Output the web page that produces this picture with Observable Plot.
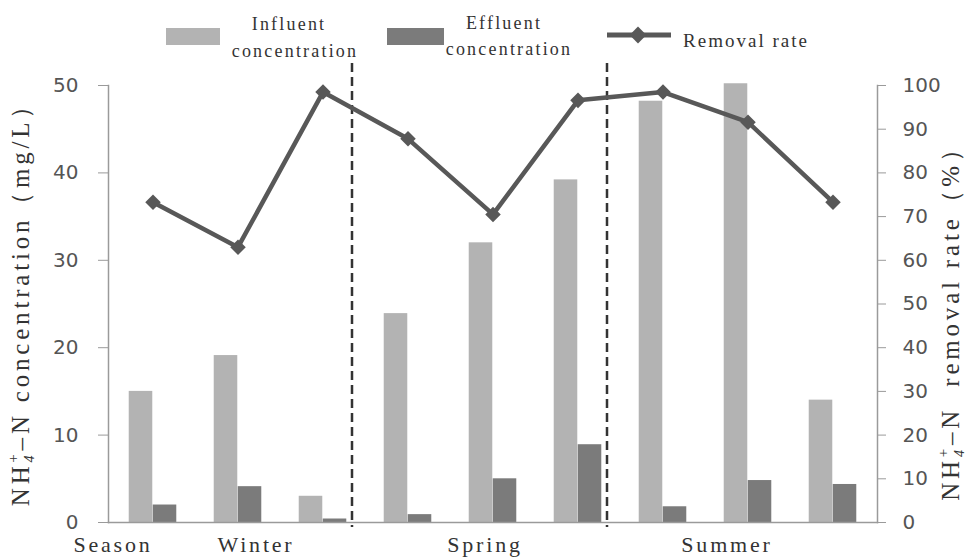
<!DOCTYPE html>
<html>
<head>
<meta charset="utf-8">
<script src="https://cdn.jsdelivr.net/npm/d3@7"></script>
<script src="https://cdn.jsdelivr.net/npm/@observablehq/plot@0.6"></script>
<style>
  body { margin: 0; background: #fff; }
  #wrap { position: relative; width: 973px; height: 559px; font-family: "Liberation Serif", serif; color: #333; }
  #legend { position: relative; height: 58px; }
  .sw { position: absolute; }
  .lt { position: absolute; transform: translate(-50%, -50%); white-space: nowrap; font-size: 18px; letter-spacing: 2.2px; }
  #chart svg { display: block; }
  #chart g[aria-label="text"] text { letter-spacing: 2.8px; }
</style>
</head>
<body>
<div id="wrap">
  <div id="legend"></div>
  <div id="chart"></div>
</div>
<script>
// Nine sampling campaigns: three in winter, three in spring, three in summer
const sampling = [1, 2, 3, 4, 5, 6, 7, 8, 9];
const influent = [15, 19.1, 3, 23.9, 32, 39.2, 48.2, 50.2, 14];       // mg/L
const effluent = [2, 4.1, 0.4, 0.9, 5, 8.9, 1.8, 4.8, 4.35];          // mg/L
const removalRate = [73.3, 63, 98.5, 87.8, 70.5, 96.6, 98.5, 91.6, 73.3]; // %

const seasonLabels = ["Season", "Winter", "Spring", "Summer"];
const seasonLabelAt = [1, 2, 5, 8];      // sample under which each label sits
const seasonStarts = [4, 7];             // first sample of spring and of summer
const concTicks = [0, 10, 20, 30, 40, 50];
const rateTicks = [0, 10, 20, 30, 40, 50, 60, 70, 80, 90, 100];

const COLORS = { influent: "#b3b3b3", effluent: "#7b7b7b", rate: "#585858", axis: "#9a9a9a" };

const rows = sampling.map((s, i) => ({
  sample: s, influent: influent[i], effluent: effluent[i], rate: removalRate[i]
}));

// the removal rate (0–100 %) shares the frame with concentration (0–50 mg/L)
const rateToConc = d3.scaleLinear().domain([0, 100]).range([0, 50]);

const W = 973, H = 501, ML = 108, MR = 96, MT = 27, MB = 37;
const bw = (W - ML - MR) / sampling.length;
const barW = 24;
const labelShift = [-40, 18, -8, -21];
const tickFont = { fontSize: 20, fontFamily: "DejaVu Sans" };

const chart = Plot.plot({
  width: W, height: H,
  marginLeft: ML, marginRight: MR, marginTop: MT, marginBottom: MB,
  style: { background: "#fff", overflow: "visible" },
  x: { type: "band", domain: sampling, padding: 0, axis: null },
  y: { domain: [0, 50], axis: null },
  marks: [
    Plot.barY(rows, { x: "sample", y: "influent", fill: COLORS.influent, insetLeft: bw / 2 - barW, insetRight: bw / 2 }),
    Plot.barY(rows, { x: "sample", y: "effluent", fill: COLORS.effluent, insetLeft: bw / 2, insetRight: bw / 2 - barW }),
    Plot.frame({ anchor: "left", stroke: COLORS.axis, strokeWidth: 1.5 }),
    Plot.frame({ anchor: "right", stroke: COLORS.axis, strokeWidth: 1.5 }),
    Plot.frame({ anchor: "bottom", stroke: COLORS.axis, strokeWidth: 1.5 }),
    Plot.axisY({
      anchor: "left", ticks: concTicks, tickSize: 10, tickPadding: 20,
      stroke: COLORS.axis, fill: "#555", label: null, ...tickFont
    }),
    Plot.axisY({
      anchor: "right", ticks: rateTicks.map(rateToConc), tickFormat: d => Math.round(rateToConc.invert(d)),
      tickSize: 8, tickPadding: 17, stroke: COLORS.axis, fill: "#555", label: null, ...tickFont
    }),
    Plot.ruleX(seasonStarts, {
      x: d => d, dx: -56, stroke: "#333", strokeWidth: 2.5, strokeDasharray: "9,5",
      insetTop: -22, insetBottom: -5
    }),
    Plot.line(rows, { x: "sample", y: d => rateToConc(d.rate), stroke: COLORS.rate, strokeWidth: 4.5 }),
    Plot.dot(rows, { x: "sample", y: d => rateToConc(d.rate), symbol: "diamond2", r: 7, fill: COLORS.rate }),
    ...seasonLabels.map((label, i) => Plot.text([label], {
      x: () => seasonLabelAt[i], text: d => d, frameAnchor: "bottom", dy: 22, dx: labelShift[i],
      lineAnchor: "middle", fontSize: 22, fontFamily: "Liberation Serif", fill: "#333"
    }))
  ]
});
document.getElementById("chart").appendChild(chart);

// rotated axis titles with NH4+ sub/superscripts
const svg = d3.select(chart);
function axisTitle(x, y, rest) {
  const t = svg.append("text")
    .attr("transform", `translate(${x},${y}) rotate(-90)`)
    .attr("text-anchor", "middle")
    .attr("font-family", "Liberation Serif, serif")
    .attr("font-size", 25)
    .attr("letter-spacing", 3.8)
    .attr("fill", "#333");
  t.append("tspan").text("NH");
  t.append("tspan").attr("font-size", 14).attr("dy", 5).attr("font-style", "italic").text("4");
  t.append("tspan").attr("font-size", 15).attr("dx", -11).attr("dy", -16).text("+");
  t.append("tspan").attr("dy", 11).text("–N" + rest);
}
axisTitle(29, 240, " concentration（mg/L）");
axisTitle(959, 259, "  removal rate（%）");

// legend
const legend = d3.select("#legend");
legend.append("div").attr("class", "sw")
  .style("left", "166px").style("top", "28px").style("width", "54px").style("height", "17px")
  .style("background", COLORS.influent);
legend.append("div").attr("class", "lt").style("left", "289px").style("top", "24px").text("Influent");
legend.append("div").attr("class", "lt").style("left", "295px").style("top", "51px").text("concentration");
legend.append("div").attr("class", "sw")
  .style("left", "387px").style("top", "28px").style("width", "57px").style("height", "17px")
  .style("background", COLORS.effluent);
legend.append("div").attr("class", "lt").style("left", "504px").style("top", "23px").text("Effluent");
legend.append("div").attr("class", "lt").style("left", "509px").style("top", "49px").text("concentration");
const ls = legend.append("svg").attr("width", 70).attr("height", 24)
  .style("position", "absolute").style("left", "604px").style("top", "23px");
ls.append("line").attr("x1", 3).attr("x2", 67).attr("y1", 12).attr("y2", 12)
  .attr("stroke", COLORS.rate).attr("stroke-width", 5);
ls.append("path").attr("d", d3.symbol(d3.symbolDiamond2, 180)()).attr("transform", "translate(34,12)")
  .attr("fill", COLORS.rate);
legend.append("div").attr("class", "lt").style("left", "746px").style("top", "41px")
  .style("font-size", "19px").style("letter-spacing", "2px").text("Removal rate");
</script>
</body>
</html>
